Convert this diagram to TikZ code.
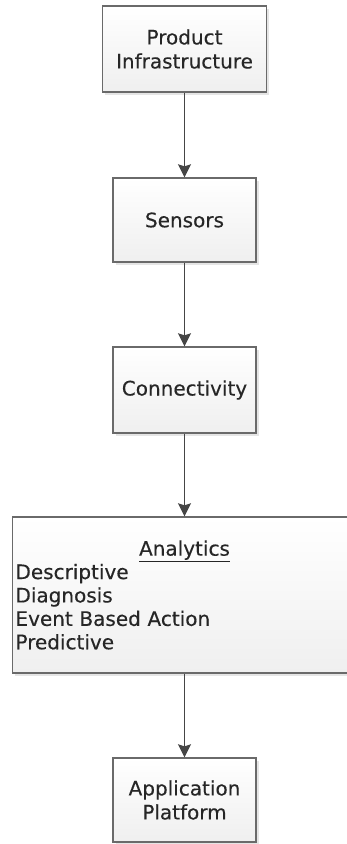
\documentclass[tikz,border=0pt]{standalone}
\usepackage{fontspec}
\setmainfont[UprightFeatures={FakeBold=0.3}]{DejaVu Sans}
\usetikzlibrary{arrows.meta,shadows}
\definecolor{boxline}{HTML}{6A6A6A}
\definecolor{boxtop}{HTML}{FFFFFF}
\definecolor{boxbottom}{HTML}{EFEFEF}
\definecolor{txt}{HTML}{262626}
\definecolor{arrowcol}{HTML}{454545}
\tikzset{
  flowbox/.style={draw=boxline, line width=1.4pt, rectangle,
    top color=boxtop, bottom color=boxbottom,
    drop shadow={shadow xshift=2.5pt, shadow yshift=-2.5pt, fill=black, opacity=0.1},
    text=txt, align=center, inner sep=3pt,
    font=\fontsize{20}{24}\selectfont},
  flowarrow/.style={draw=arrowcol, line width=1.3pt,
    -{Stealth[inset=2pt, width=13pt, length=13pt]}}
}
\begin{document}
\begin{tikzpicture}[x=1pt, y=-1pt]
  \useasboundingbox (0,0) rectangle (347,844);
  \clip (0,0) rectangle (347,844);
  \node[flowbox, minimum width=164pt, minimum height=86pt] (infra) at (184.5,49) {Product\\Infrastructure};
  \node[flowbox, minimum width=143pt, minimum height=84pt] (sensors) at (184.5,220) {Sensors};
  \node[flowbox, minimum width=143pt, minimum height=86pt] (conn) at (184.5,390) {Connectivity};
  \node[flowbox, minimum width=344pt, minimum height=156pt, text width=338pt, align=left,
        font=\fontsize{20}{23.4}\selectfont] (analytics) at (184.5,595)
    {\makebox[338pt]{\underline{Analytics}}\\Descriptive\\Diagnosis\\Event Based Action\\Predictive};
  \node[flowbox, minimum width=143pt, minimum height=84pt] (app) at (184.5,800) {Application\\Platform};
  \draw[flowarrow] (infra.south) -- (sensors.north);
  \draw[flowarrow] (sensors.south) -- (conn.north);
  \draw[flowarrow] (conn.south) -- (analytics.north);
  \draw[flowarrow] (analytics.south) -- (app.north);
\end{tikzpicture}
\end{document}
